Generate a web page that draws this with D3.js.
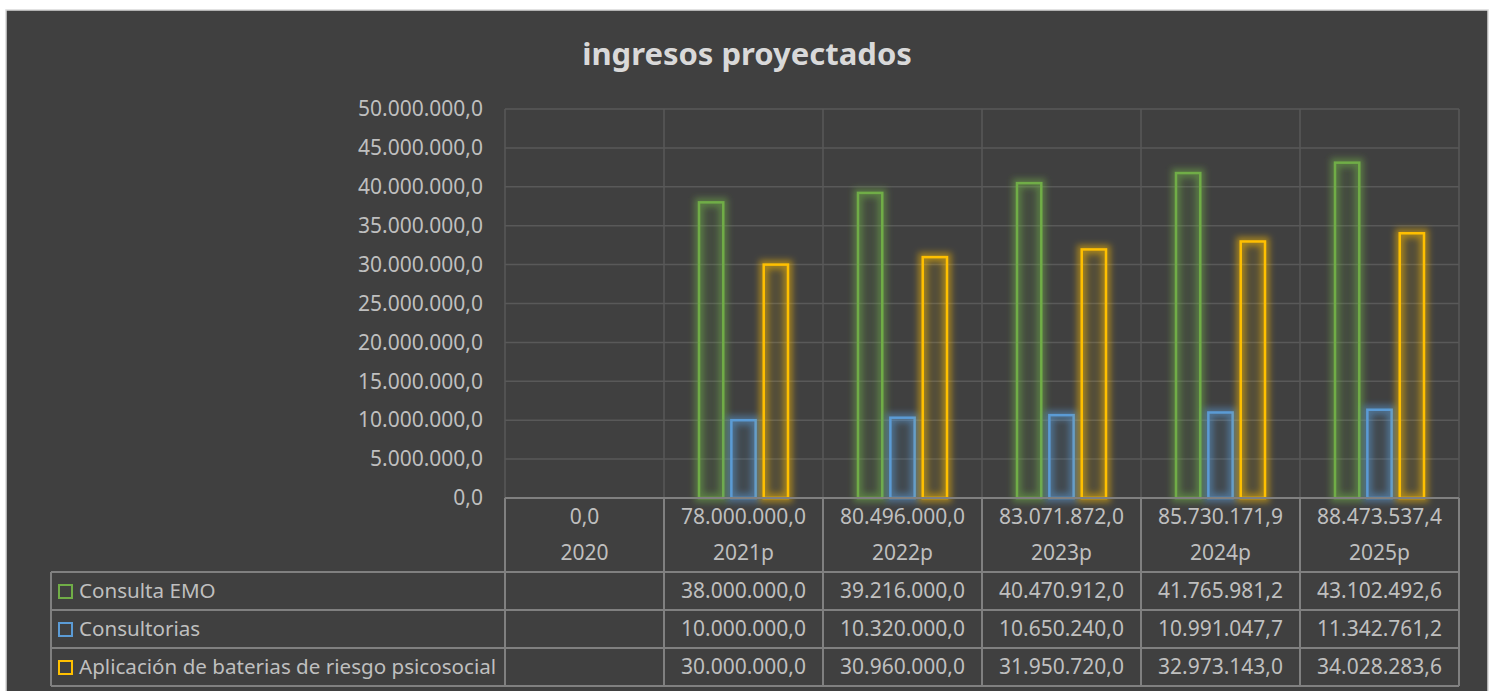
<!DOCTYPE html>
<html><head><meta charset="utf-8">
<script src="https://cdn.jsdelivr.net/npm/d3@7"></script>
<style>html,body{margin:0;padding:0;background:#fff;}svg{display:block;}</style>
</head><body>
<svg id="c" width="1491" height="691"></svg>
<script>
const categories = ["2020","2021p","2022p","2023p","2024p","2025p"];
const seriesNames = ["Consulta EMO","Consultorias","Aplicación de baterias de riesgo psicosocial"];
const consultaEMO = [null, 38000000.0, 39216000.0, 40470912.0, 41765981.2, 43102492.6];
const consultorias = [null, 10000000.0, 10320000.0, 10650240.0, 10991047.7, 11342761.2];
const aplicacion = [null, 30000000.0, 30960000.0, 31950720.0, 32973143.0, 34028283.6];
const totals = [0.0, 78000000.0, 80496000.0, 83071872.0, 85730171.9, 88473537.4];
const yTicks = [0,5e6,10e6,15e6,20e6,25e6,30e6,35e6,40e6,45e6,50e6];
const colors = ["#70ad47","#5b9bd5","#ffc000"];
const seriesValues = [consultaEMO, consultorias, aplicacion];

const loc = d3.formatLocale({decimal:",", thousands:".", grouping:[3], currency:["$",""]});
const fmt = loc.format(",.1f");

const svg = d3.select("#c");
const FONT = "'Noto Sans', 'Open Sans', sans-serif";
const FS = 21;
const TXT = "#bfbfbf";
const GRID = "#595959";
const TBL = "#808080";

// frame
svg.append("rect").attr("x",6).attr("y",10).attr("width",1482).attr("height",690)
  .attr("fill","#404040").attr("stroke","#d9d9d9").attr("stroke-width",1.5);

const defs = svg.append("defs");
const f = defs.append("filter").attr("id","glow").attr("x","-50%").attr("y","-20%").attr("width","200%").attr("height","140%");
f.append("feGaussianBlur").attr("stdDeviation",3);

// title
svg.append("text").attr("x",747).attr("y",65).attr("text-anchor","middle")
  .attr("font-family",FONT).attr("font-weight","bold").attr("font-size",31)
  .attr("fill","#d9d9d9").text("ingresos proyectados");

const x = d3.scaleBand().domain(categories).range([505,1459]);
const y = d3.scaleLinear().domain([0,50e6]).range([498,109]);
const xs = d3.scaleBand().domain(seriesNames).range([-44.5,44.5]).paddingInner(0.25);

// grid
const g = svg.append("g");
g.selectAll("line.h").data(yTicks.slice(1)).join("line")
  .attr("x1",505).attr("x2",1459).attr("y1",d=>y(d)).attr("y2",d=>y(d))
  .attr("stroke",GRID).attr("stroke-width",1.5);
g.selectAll("line.v").data(categories.concat(["__end"])).join("line")
  .attr("x1",(d,i)=> i<categories.length ? x(d) : x.range()[1])
  .attr("x2",(d,i)=> i<categories.length ? x(d) : x.range()[1])
  .attr("y1",109).attr("y2",498).attr("stroke",GRID).attr("stroke-width",1.5);

// y axis labels
const yAxis = d3.axisLeft(y).tickValues(yTicks).tickFormat(fmt).tickSize(0).tickPadding(22);
const ya = svg.append("g").attr("transform","translate(505,0)").call(yAxis);
ya.select(".domain").remove();
ya.selectAll("text").attr("font-family",FONT).attr("font-size",FS).attr("fill",TXT);

// bars
seriesValues.forEach((vals,si)=>{
  const data = categories.map((c,i)=>({c,v:vals[i]})).filter(d=>d.v!=null);
  const gg = svg.append("g");
  const bx = d => x(d.c)+x.bandwidth()/2+xs(seriesNames[si]);
  gg.selectAll("rect.glow").data(data).join("rect")
    .attr("x",bx).attr("y",d=>y(d.v)).attr("width",xs.bandwidth()).attr("height",d=>y(0)-y(d.v))
    .attr("fill","none").attr("stroke",colors[si]).attr("stroke-width",9).attr("stroke-opacity",0.5)
    .attr("filter","url(#glow)");
  gg.selectAll("rect.bar").data(data).join("rect")
    .attr("x",bx).attr("y",d=>y(d.v)).attr("width",xs.bandwidth()).attr("height",d=>y(0)-y(d.v))
    .attr("fill",colors[si]).attr("fill-opacity",0.1).attr("stroke",colors[si]).attr("stroke-width",2.5);
});

// data table
const rowY = [498, 572, 610, 648, 686];
const tl = svg.append("g").attr("stroke",TBL).attr("stroke-width",2).attr("fill","none");
tl.append("line").attr("x1",505).attr("x2",1459).attr("y1",498).attr("y2",498);
[572,610,648,686].forEach(yy=>{
  tl.append("line").attr("x1",51).attr("x2",1459).attr("y1",yy).attr("y2",yy);
});
categories.forEach(c=>{
  tl.append("line").attr("x1",x(c)).attr("x2",x(c)).attr("y1",498).attr("y2",686);
});
tl.append("line").attr("x1",1459).attr("x2",1459).attr("y1",498).attr("y2",686);
tl.append("line").attr("x1",51).attr("x2",51).attr("y1",572).attr("y2",686);

const tt = svg.append("g").attr("font-family",FONT).attr("font-size",FS).attr("fill",TXT)
  .attr("text-anchor","middle");
categories.forEach((c,i)=>{
  const cx = x(c)+x.bandwidth()/2;
  tt.append("text").attr("x",cx).attr("y",517).attr("dy","0.35em").text(fmt(totals[i]));
  tt.append("text").attr("x",cx).attr("y",553).attr("dy","0.35em").text(c);
  seriesValues.forEach((vals,si)=>{
    if(vals[i]!=null)
      tt.append("text").attr("x",cx).attr("y",(rowY[si+1]+rowY[si+2])/2).attr("dy","0.35em").text(fmt(vals[i]));
  });
});
// legend keys
seriesNames.forEach((n,si)=>{
  const cy = (rowY[si+1]+rowY[si+2])/2;
  svg.append("rect").attr("x",59).attr("y",cy-6).attr("width",13).attr("height",13)
    .attr("fill","none").attr("stroke",colors[si]).attr("stroke-width",2);
  svg.append("text").attr("x",79).attr("y",cy).attr("dy","0.35em")
    .attr("font-family",FONT).attr("font-size",20.6).attr("fill",TXT).text(n);
});
</script>
</body></html>
